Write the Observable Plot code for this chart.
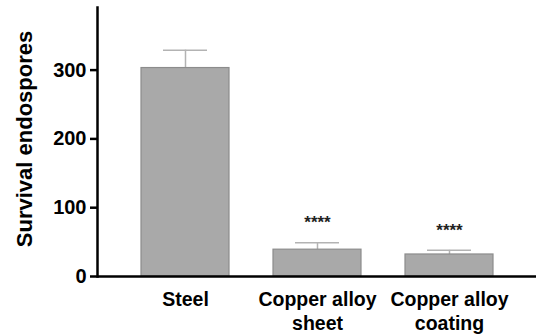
<!DOCTYPE html>
<html><head><meta charset="utf-8">
<script src="https://cdn.jsdelivr.net/npm/d3@7"></script>
<script src="https://cdn.jsdelivr.net/npm/@observablehq/plot@0.6"></script>
<style>
html,body{margin:0;padding:0;background:#fff;}
svg{font-family:"Liberation Sans",Arial,sans-serif;font-weight:bold;}
</style></head><body><div id="chart"></div>
<script>
const categories = ["Steel", "Copper alloy sheet", "Copper alloy coating"];
const labels = ["Steel", "Copper alloy\nsheet", "Copper alloy\ncoating"];
const means = [303, 39, 32];
const errors = [26, 10, 6];
const signif = ["", "****", "****"];
const yTicks = [0, 100, 200, 300];

const data = categories.map((c, i) => ({c, m: means[i], top: means[i] + errors[i], s: signif[i]}));
const labelOf = new Map(categories.map((c, i) => [c, labels[i]]));

const chart = Plot.plot({
  width: 536, height: 334,
  marginLeft: 97, marginRight: 0, marginTop: 7, marginBottom: 58,
  style: {background: "#fff", color: "#000"},
  x: {domain: categories, paddingInner: 0.336, paddingOuter: 0.325},
  y: {domain: [0, 391]},
  marks: [
    Plot.ruleX(data, {x: "c", y1: "m", y2: "top", stroke: "#b3b3b3", strokeWidth: 1.5}),
    Plot.tickY(data, {x: "c", y: "top", stroke: "#b3b3b3", strokeWidth: 1.5, insetLeft: 22, insetRight: 22}),
    Plot.barY(data, {x: "c", y: "m", fill: "#a9a9a9", stroke: "#8c8c8c", strokeWidth: 1.2}),
    Plot.text(data, {x: "c", y: "top", text: "s", dy: -20, fontSize: 17, fontWeight: "bold", fill: "#222"}),
    Plot.axisY({ticks: yTicks, tickSize: 7, tickPadding: 4, strokeWidth: 2.5, fontSize: 20, fontWeight: "bold", label: null}),
    Plot.text(["Survival endospores"], {frameAnchor: "left", textAnchor: "middle", dx: -73, dy: -3, rotate: -90, fontSize: 22, fontWeight: "bold", text: d => d}),
    Plot.axisX({tickSize: 0, tickPadding: 13, fontSize: 19.5, fontWeight: "bold", lineHeight: 1.22, tickFormat: d => labelOf.get(d), label: null}),
    Plot.frame({anchor: "left", strokeWidth: 2.5}),
    Plot.ruleY([0], {strokeWidth: 2.5})
  ]
});
document.getElementById("chart").appendChild(chart);
</script></body></html>
